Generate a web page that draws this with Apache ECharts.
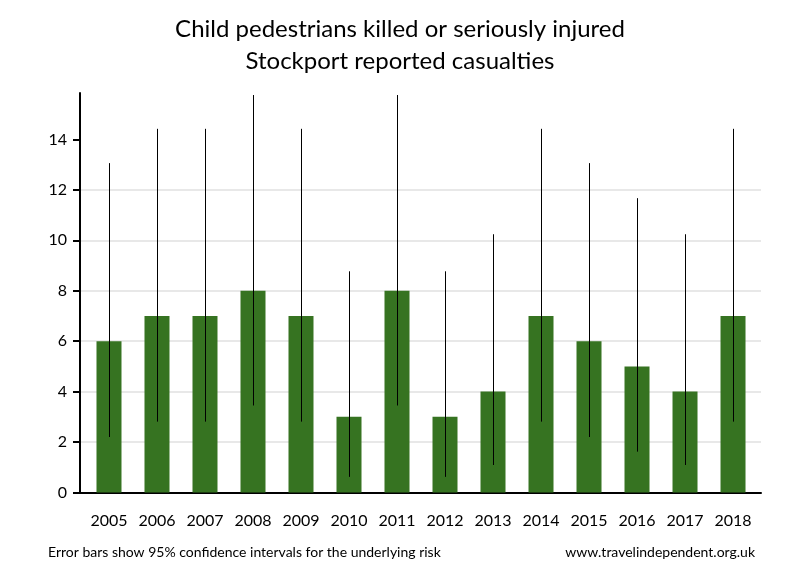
<!DOCTYPE html>
<html>
<head>
<meta charset="utf-8">
<script src="https://cdn.jsdelivr.net/npm/echarts@6/dist/echarts.min.js"></script>
<style>
  html, body { margin: 0; padding: 0; background: #fff; }
  #chart { width: 800px; height: 580px; }
</style>
</head>
<body>
<div id="chart"></div>
<script>
const years = ['2005', '2006', '2007', '2008', '2009', '2010', '2011', '2012', '2013', '2014', '2015', '2016', '2017', '2018'];
const casualties = [6, 7, 7, 8, 7, 3, 8, 3, 4, 7, 6, 5, 4, 7];
// 95% confidence interval ends
const lowerCI = [2.2, 2.81, 2.81, 3.45, 2.81, 0.62, 3.45, 0.62, 1.09, 2.81, 2.2, 1.62, 1.09, 2.81];
const upperCI = [13.06, 14.42, 14.42, 15.76, 14.42, 8.77, 15.76, 8.77, 10.24, 14.42, 13.06, 11.67, 10.24, 14.42];
const yTicks = [0, 2, 4, 6, 8, 10, 12, 14];

const font = 'Lato, "Open Sans", sans-serif';
const chart = echarts.init(document.getElementById('chart'));

const option = {
    backgroundColor: '#fff',
    animation: false,
    title: [
        {
            text: 'Child pedestrians killed or seriously injured\nStockport reported casualties',
            left: 'center',
            top: 8,
            textStyle: { fontFamily: font, fontSize: 24, fontWeight: 'normal', color: '#000', lineHeight: 32 }
        },
        {
            text: 'Error bars show 95% confidence intervals for the underlying risk',
            left: 48,
            top: 545,
            padding: 0,
            textStyle: { fontFamily: font, fontSize: 14, fontWeight: 'normal', color: '#000' }
        },
        {
            text: 'www.travelindependent.org.uk',
            right: 45,
            top: 545,
            padding: 0,
            textStyle: { fontFamily: font, fontSize: 14, fontWeight: 'normal', color: '#000' }
        }
    ],
    grid: { left: 80, right: 39, top: 93, bottom: 87.5 },
    xAxis: {
        type: 'value',
        min: -0.604,
        max: 13.583,
        axisLine: { show: true, onZero: false, lineStyle: { color: '#000', width: 2 } },
        axisTick: { show: false },
        splitLine: { show: false },
        axisLabel: {
            customValues: years.map((y, i) => i),
            formatter: (v) => years[Math.round(v)],
            fontFamily: font,
            fontSize: 16,
            color: '#000',
            margin: 20
        }
    },
    yAxis: {
        type: 'value',
        min: 0,
        max: 15.84,
        interval: 2,
        axisLine: { show: true, onZero: false, lineStyle: { color: '#000', width: 2 } },
        axisTick: { show: true, length: 7, customValues: yTicks, lineStyle: { color: '#000', width: 2 } },
        axisLabel: {
            customValues: yTicks,
            fontFamily: font,
            fontSize: 16,
            color: '#000',
            margin: 13
        },
        splitLine: { show: true, showMaxLine: false, lineStyle: { color: '#e8e8e8', width: 2 } }
    },
    series: [
        {
            type: 'bar',
            barWidth: 25,
            itemStyle: { color: '#367321' },
            data: casualties.map((v, i) => [i, v]),
            z: 2
        },
        {
            type: 'custom',
            z: 3,
            data: years.map((y, i) => [i, lowerCI[i], upperCI[i]]),
            renderItem: (params, api) => {
                const lo = api.coord([api.value(0), api.value(1)]);
                const hi = api.coord([api.value(0), api.value(2)]);
                const x = Math.round(lo[0]) + 0.5;
                return {
                    type: 'line',
                    shape: { x1: x, y1: lo[1], x2: x, y2: hi[1] },
                    style: { stroke: '#000', lineWidth: 1 }
                };
            }
        }
    ]
};

chart.setOption(option);
</script>
</body>
</html>
